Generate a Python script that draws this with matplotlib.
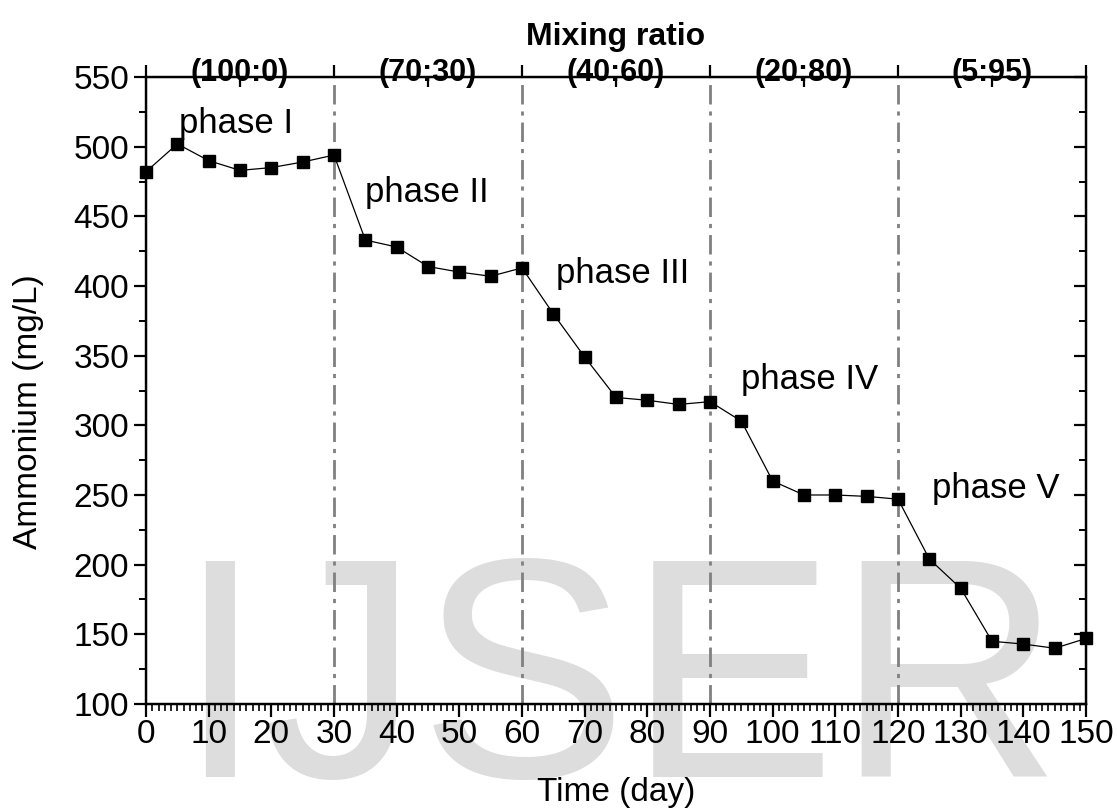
import matplotlib
matplotlib.use("Agg")
import matplotlib.pyplot as plt
from matplotlib.ticker import MultipleLocator
from matplotlib import font_manager

days = [0, 5, 10, 15, 20, 25, 30, 35, 40, 45, 50, 55, 60, 65, 70, 75, 80, 85, 90,
        95, 100, 105, 110, 115, 120, 125, 130, 135, 140, 145, 150]
ammonium = [482, 502, 490, 483, 485, 489, 494, 433, 428, 414, 410, 407, 413, 380,
            349, 320, 318, 315, 317, 303, 260, 250, 250, 249, 247, 204, 183, 145,
            143, 140, 147]
phase_bounds = [30, 60, 90, 120]
ratio_pos = [15, 45, 75, 105, 135]
ratio_labels = ["(100:0)", "(70:30)", "(40:60)", "(20:80)", "(5:95)"]
phase_labels = ["phase I", "phase II", "phase III", "phase IV", "phase V"]
phase_x = [5.2, 35.0, 65.5, 95.0, 125.4]
phase_y = [517, 467, 409, 333, 255]

names = {f.name for f in font_manager.fontManager.ttflist}
base = "Liberation Sans" if "Liberation Sans" in names else "DejaVu Sans"
narrow = "Liberation Sans Narrow" if "Liberation Sans Narrow" in names else base
plt.rcParams["font.family"] = [base, "DejaVu Sans"]

fig = plt.figure(figsize=(11.17, 8.10), dpi=100)
ax = fig.add_axes([0.1307, 0.1309, 0.9723 - 0.1307, 0.9049 - 0.1309])
ax.patch.set_alpha(0)

# watermark
fig.text(0.554, 1 - 777 / 810, "IJSER", fontsize=225, color="#dddddd", family=narrow,
         ha="center", va="baseline", zorder=-5)

for b in phase_bounds:
    ax.axvline(b, color="#808080", lw=2.0, ls=(0, (7, 2.5, 1.5, 2.5)), zorder=1)

ax.plot(days, ammonium, color="black", lw=0.9, marker="s", ms=8.5,
        mfc="black", mec="black", zorder=3, clip_on=False)

for t, x, y in zip(phase_labels, phase_x, phase_y):
    ax.text(x, y, t, fontsize=25, ha="left", va="center")

ax.set_xlim(0, 150)
ax.set_ylim(100, 550)
ax.xaxis.set_major_locator(MultipleLocator(10))
ax.xaxis.set_minor_locator(MultipleLocator(1))
ax.yaxis.set_major_locator(MultipleLocator(50))
ax.yaxis.set_minor_locator(MultipleLocator(25))

for s in ax.spines.values():
    s.set_linewidth(1.6)

ax.tick_params(axis="x", which="major", direction="out", length=9, width=1.6,
               labelsize=24, pad=2, top=False)
ax.tick_params(axis="x", which="minor", direction="out", length=5, width=1.2, top=False)
ax.tick_params(axis="y", which="major", direction="out", length=9, width=1.6,
               labelsize=24, pad=3, right=False)
ax.tick_params(axis="y", which="minor", direction="out", length=5, width=1.4, right=False)

# right axis ticks (inward)
axr = ax.twinx()
axr.set_ylim(100, 550)
axr.yaxis.set_major_locator(MultipleLocator(50))
axr.yaxis.set_minor_locator(MultipleLocator(25))
axr.tick_params(axis="y", which="major", direction="in", length=9, width=1.6, labelright=False)
axr.tick_params(axis="y", which="minor", direction="in", length=5, width=1.4)
for s in axr.spines.values():
    s.set_linewidth(1.6)

# top axis: mixing ratio
axt = ax.twiny()
axt.set_xlim(0, 150)
axt.xaxis.set_major_locator(MultipleLocator(30))
axt.set_xticks(ratio_pos, labels=ratio_labels, minor=True)
axt.tick_params(axis="x", which="major", direction="out", length=9, width=1.6, labeltop=False)
axt.tick_params(axis="x", which="minor", direction="in", length=7, width=1.6,
               pad=-8, labelsize=22)
for lab in axt.get_xticklabels(minor=True):
    lab.set_fontweight("bold")
    lab.set_family([narrow, base])
axt.set_xlabel("Mixing ratio", fontsize=23, fontweight="bold")
axt.xaxis.set_label_coords(0.5, (704 - 45) / 627)
axt.patch.set_alpha(0)
axr.patch.set_alpha(0)

ax.set_xlabel("Time (day)", fontsize=24)
ax.xaxis.set_label_coords(0.5, (704 - 777) / 627)
ax.set_ylabel("Ammonium (mg/L)", fontsize=24)
ax.yaxis.set_label_coords((44 - 146) / 940, (704 - 412) / 627)

fig.savefig("out.png", dpi=100)
